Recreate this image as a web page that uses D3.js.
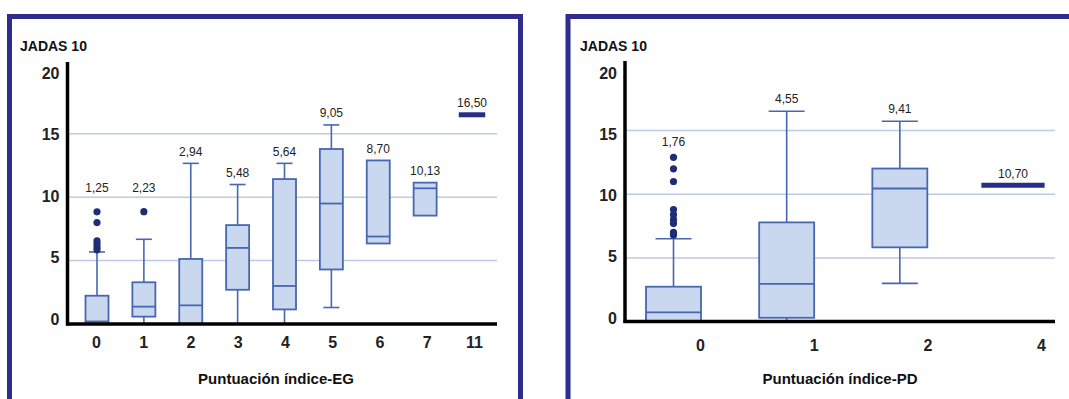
<!DOCTYPE html>
<html>
<head>
<meta charset="utf-8">
<script src="https://cdn.jsdelivr.net/npm/d3@7"></script>
<style>
  html, body { margin: 0; padding: 0; background: #ffffff; }
  svg { display: block; }
  text { font-family: "Liberation Sans", Arial, sans-serif; }
</style>
</head>
<body>
<svg id="chart" width="1069" height="399"></svg>
<script>
// JADAS 10 distribution by EG index score
const egCategories = ["0", "1", "2", "3", "4", "5", "6", "7", "11"];
const egLow    = [null, 0, null, 0, 0, 1.3, null, null, null];
const egQ1     = [0, 0.58, 0, 2.7, 1.15, 4.3, 6.35, 8.55, 16.5];
const egMedian = [0.2, 1.37, 1.47, 6.0, 3.0, 9.5, 6.9, 10.7, 16.5];
const egQ3     = [2.23, 3.29, 5.13, 7.8, 11.43, 13.8, 12.9, 11.15, 16.5];
const egHigh   = [5.68, 6.68, 12.67, 11.0, 12.67, 15.7, null, null, null];
const egOutliers = [[8.85, 8.0, 6.55, 6.3, 6.05, 5.85], [8.86], [], [], [], [], [], [], []];
const egMeans  = [1.25, 2.23, 2.94, 5.48, 5.64, 9.05, 8.70, 10.13, 16.50];

// JADAS 10 distribution by PD index score
const pdCategories = ["0", "1", "2", "4"];
const pdLow    = [null, 0, 3.0, null];
const pdQ1     = [0, 0.3, 5.83, 10.7];
const pdMedian = [0.73, 2.97, 10.45, 10.7];
const pdQ3     = [2.74, 7.79, 12.02, 10.7];
const pdHigh   = [6.5, 16.52, 15.73, null];
const pdOutliers = [[12.9, 12.0, 11.0, 8.8, 8.4, 8.0, 7.7, 7.0, 6.8], [], [], []];
const pdMeans  = [1.76, 4.55, 9.41, 10.70];

const yTicks = [0, 5, 10, 15, 20];
const gridValues = [5, 10, 15];
const yTitle = "JADAS 10";

const esLocale = d3.formatLocale({ decimal: ",", thousands: ".", grouping: [3], currency: ["", " €"] });
const fmt = esLocale.format(".2f");

const C = {
  frame: "#2e2d8f",
  boxFill: "#c9d8ef",
  boxStroke: "#4767b0",
  dot: "#1f2d78",
  bar: "#262e86",
  grid: "#bccbe6",
  text: "#222222"
};

const svg = d3.select("#chart");

function drawPanel(p) {
  const g = svg.append("g");

  // panel frame (bottom edge runs past the canvas)
  g.append("rect")
    .attr("x", p.frame[0]).attr("y", p.frame[1])
    .attr("width", p.frame[2]).attr("height", p.frame[3])
    .attr("fill", "none").attr("stroke", C.frame).attr("stroke-width", 5);

  const y = d3.scaleLinear().domain([0, 20]).range(p.yRange);
  const yLab = d3.scaleLinear().domain([0, 20]).range(p.yLabelRange);
  const x = d3.scalePoint().domain(p.categories).range(p.xRange);
  const xLab = d3.scalePoint().domain(p.categories).range(p.xLabelRange);

  // horizontal gridlines
  g.selectAll("line.grid").data(gridValues).join("line")
    .attr("class", "grid")
    .attr("x1", p.axisX).attr("x2", p.plotRight)
    .attr("y1", d => y(d)).attr("y2", d => y(d))
    .attr("stroke", C.grid).attr("stroke-width", 1.5);

  // y tick labels
  const yAxis = d3.axisLeft(yLab).tickValues(yTicks).tickSize(0).tickPadding(0);
  const ya = g.append("g").attr("transform", `translate(${p.axisX - 8},0)`).call(yAxis);
  ya.select(".domain").remove();
  ya.selectAll("text")
    .attr("font-size", 16).attr("font-weight", "bold").attr("fill", C.text)
    .attr("font-family", "Liberation Sans, Arial, sans-serif");

  // x tick labels
  const xAxis = d3.axisBottom(xLab).tickSize(0).tickPadding(0);
  const xa = g.append("g").attr("transform", `translate(0,${p.xLabelY})`).call(xAxis);
  xa.select(".domain").remove();
  xa.selectAll("text")
    .attr("font-size", 16).attr("font-weight", "bold").attr("fill", C.text)
    .attr("dy", "0.35em")
    .attr("font-family", "Liberation Sans, Arial, sans-serif");

  const rows = p.categories.map((c, i) => ({
    c, low: p.low[i], q1: p.q1[i], med: p.median[i], q3: p.q3[i], high: p.high[i],
    out: p.outliers[i], mean: p.means[i]
  }));

  const bw = p.boxWidth, cw = p.capWidth;

  rows.forEach(r => {
    const cx = x(r.c);
    const bg = g.append("g");
    if (r.q1 === r.q3) {
      // all observations equal: single thick bar
      const w = bw * 1.15;
      bg.append("line")
        .attr("x1", cx - w / 2).attr("x2", cx + w / 2)
        .attr("y1", y(r.med)).attr("y2", y(r.med))
        .attr("stroke", C.bar).attr("stroke-width", 5);
      return;
    }
    // whiskers
    if (r.high != null) {
      bg.append("line").attr("x1", cx).attr("x2", cx)
        .attr("y1", y(r.q3)).attr("y2", y(r.high))
        .attr("stroke", C.boxStroke).attr("stroke-width", 1.6);
      bg.append("line").attr("x1", cx - cw / 2).attr("x2", cx + cw / 2)
        .attr("y1", y(r.high)).attr("y2", y(r.high))
        .attr("stroke", C.boxStroke).attr("stroke-width", 1.6);
    }
    if (r.low != null) {
      bg.append("line").attr("x1", cx).attr("x2", cx)
        .attr("y1", y(r.q1)).attr("y2", y(r.low))
        .attr("stroke", C.boxStroke).attr("stroke-width", 1.6);
      bg.append("line").attr("x1", cx - cw / 2).attr("x2", cx + cw / 2)
        .attr("y1", y(r.low)).attr("y2", y(r.low))
        .attr("stroke", C.boxStroke).attr("stroke-width", 1.6);
    }
    // box
    bg.append("rect")
      .attr("x", cx - bw / 2).attr("width", bw)
      .attr("y", y(r.q3)).attr("height", y(r.q1) - y(r.q3))
      .attr("fill", C.boxFill).attr("stroke", C.boxStroke).attr("stroke-width", 1.8);
    // median
    bg.append("line")
      .attr("x1", cx - bw / 2).attr("x2", cx + bw / 2)
      .attr("y1", y(r.med)).attr("y2", y(r.med))
      .attr("stroke", C.boxStroke).attr("stroke-width", 1.8);
    // outliers
    bg.selectAll("circle").data(r.out).join("circle")
      .attr("cx", cx).attr("cy", d => y(d)).attr("r", 3.6)
      .attr("fill", C.dot);
  });

  // axes lines
  g.append("line")
    .attr("x1", p.axisX).attr("x2", p.axisX)
    .attr("y1", p.axisTop).attr("y2", y(0) + 1.5)
    .attr("stroke", "#000").attr("stroke-width", 3.5);
  g.append("line")
    .attr("x1", p.axisX - 1.5).attr("x2", p.plotRight)
    .attr("y1", y(0)).attr("y2", y(0))
    .attr("stroke", "#000").attr("stroke-width", 3.5);

  // mean labels above each group
  rows.forEach(r => {
    const tops = [r.q3, r.high == null ? -Infinity : r.high];
    const outTop = r.out.length ? d3.max(r.out) : -Infinity;
    const topVal = Math.max(...tops, outTop);
    const gap = outTop >= d3.max(tops) ? p.outlierGap : 12;
    g.append("text")
      .attr("x", x(r.c)).attr("y", y(topVal) - gap)
      .attr("dy", "0.35em").attr("text-anchor", "middle")
      .attr("font-size", 12).attr("fill", C.text)
      .text(fmt(r.mean));
  });

  // y title
  g.append("text")
    .attr("x", p.yTitleX).attr("y", 51)
    .attr("font-size", 14).attr("font-weight", "bold").attr("fill", "#111")
    .text(yTitle);

  // x title
  g.append("text")
    .attr("x", p.xTitleX).attr("y", 384)
    .attr("text-anchor", "middle")
    .attr("font-size", 15).attr("font-weight", "bold").attr("fill", "#111")
    .text(p.xTitle);
}

drawPanel({
  frame: [9.5, 16.5, 511, 420],
  categories: egCategories, low: egLow, q1: egQ1, median: egMedian, q3: egQ3,
  high: egHigh, outliers: egOutliers, means: egMeans,
  yRange: [324, 70.4], yLabelRange: [319, 73],
  xRange: [97, 472], xLabelRange: [96, 474],
  axisX: 67.5, axisTop: 62, plotRight: 497,
  boxWidth: 23, capWidth: 16, outlierGap: 24,
  xLabelY: 342, yTitleX: 20, xTitleX: 276,
  xTitle: "Puntuación índice-EG"
});

drawPanel({
  frame: [568, 16.5, 520, 420],
  categories: pdCategories, low: pdLow, q1: pdQ1, median: pdMedian, q3: pdQ3,
  high: pdHigh, outliers: pdOutliers, means: pdMeans,
  yRange: [321.6, 66.9], yLabelRange: [318, 73],
  xRange: [673.5, 1013], xLabelRange: [700, 1041],
  axisX: 625, axisTop: 61, plotRight: 1055,
  boxWidth: 55, capWidth: 36, outlierGap: 16,
  xLabelY: 345, yTitleX: 580, xTitleX: 840,
  xTitle: "Puntuación índice-PD"
});
</script>
</body>
</html>
